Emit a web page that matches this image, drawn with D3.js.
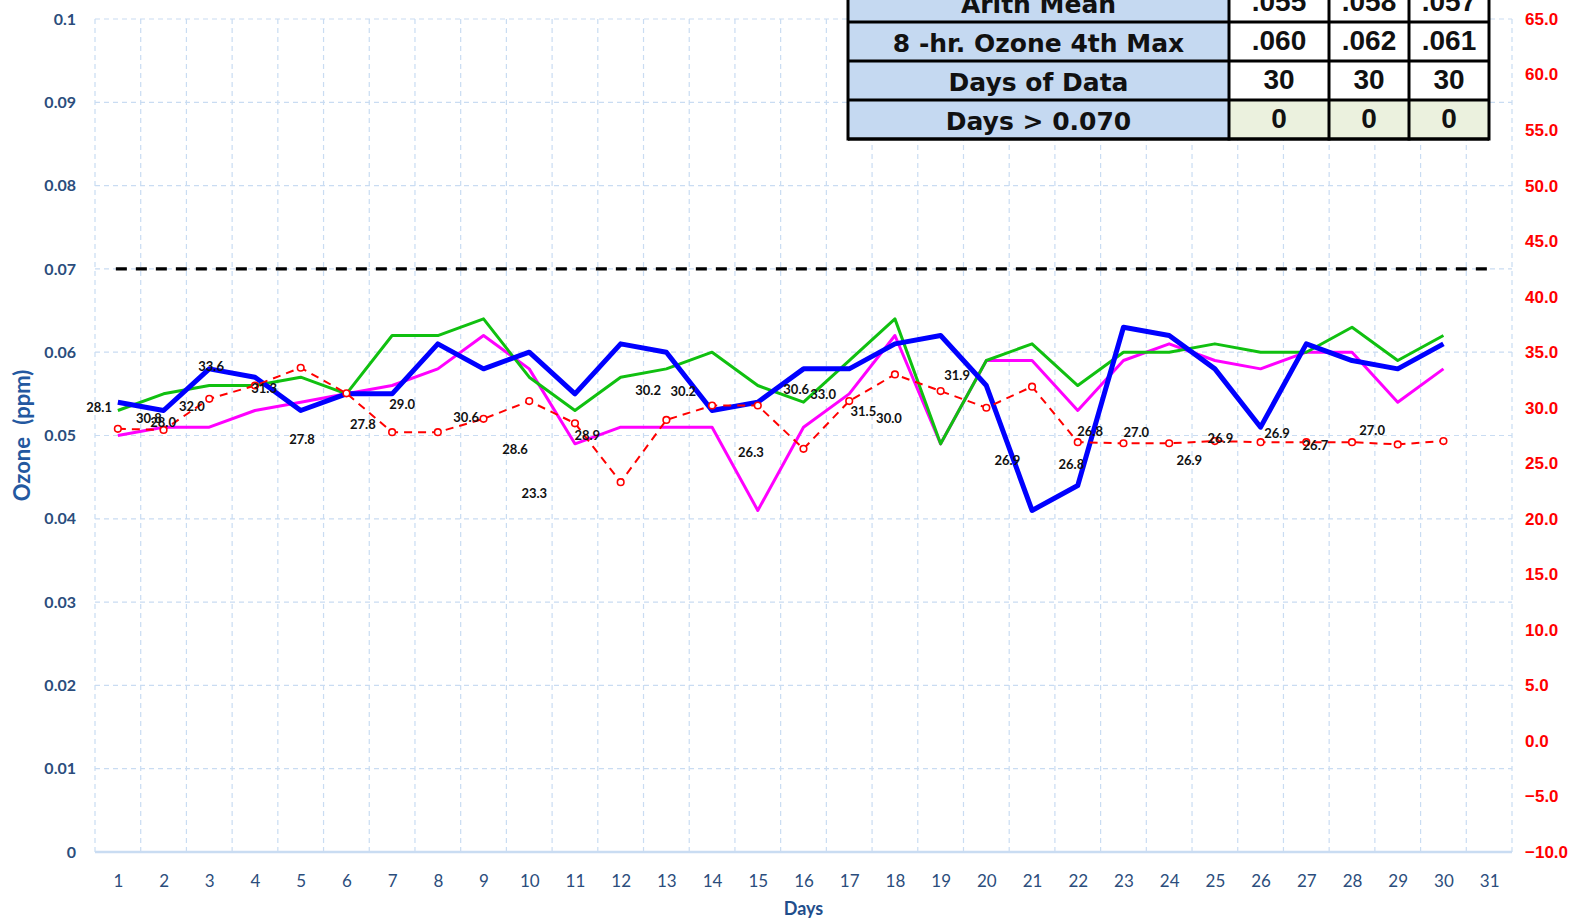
<!DOCTYPE html>
<html lang="en">
<head>
  <meta charset="utf-8">
  <title>Ozone by Day</title>
  <script src="https://cdnjs.cloudflare.com/ajax/libs/d3/7.8.5/d3.min.js"></script>
  <style>
    body { margin: 0; background: #fff; }
    text { font-family: Lato, 'Liberation Sans', sans-serif; }
  </style>
</head>
<body>
<svg id="canvas" width="1573" height="921"></svg>

<script>
// ---- data ----
var days = d3.range(1, 31);
var day_ticks = d3.range(1, 32);

var ozone_magenta = [.050, .051, .051, .053, .054, .055, .056, .058, .062, .058,
                     .049, .051, .051, .051, .041, .051, .055, .062, .049, .059,
                     .059, .053, .059, .061, .059, .058, .060, .060, .054, .058];
var ozone_green   = [.053, .055, .056, .056, .057, .055, .062, .062, .064, .057,
                     .053, .057, .058, .060, .056, .054, .059, .064, .049, .059,
                     .061, .056, .060, .060, .061, .060, .060, .063, .059, .062];
var ozone_blue    = [.054, .053, .058, .057, .053, .055, .055, .061, .058, .060,
                     .055, .061, .060, .053, .054, .058, .058, .061, .062, .056,
                     .041, .044, .063, .062, .058, .051, .061, .059, .058, .061];
var temp_red      = [28.1, 28.0, 30.8, 32.0, 33.6, 31.3, 27.8, 27.8, 29.0, 30.6,
                     28.6, 23.3, 28.9, 30.2, 30.2, 26.3, 30.6, 33.0, 31.5, 30.0,
                     31.9, 26.9, 26.8, 26.8, 27.0, 26.9, 26.9, 26.9, 26.7, 27.0];
var standard = 0.070;

var ozone_ticks = d3.range(0, 11).map(function(i){ return i / 100; });
var temp_ticks = d3.range(-10, 66, 5);

var table_rows = ['Arith Mean', '8 -hr. Ozone 4th Max', 'Days of Data', 'Days > 0.070'];
var table_values = [['.055', '.058', '.057'],
                    ['.060', '.062', '.061'],
                    ['30', '30', '30'],
                    ['0', '0', '0']];

// where the temperature labels sit (day, temperature units) - they were dragged around in the original
var label_day  = [0.59, 1.99, 1.68, 2.62, 3.04, 4.20, 5.03, 6.36, 7.22, 8.62,
                  9.69, 10.11, 11.27, 12.60, 13.37, 14.85, 15.84, 16.43, 17.31, 17.87,
                  19.36, 20.46, 21.86, 22.27, 23.28, 24.44, 25.12, 26.36, 27.20, 28.44];
var label_temp = [30.0, 28.65, 29.07, 30.15, 33.74, 31.77, 27.10, 28.53, 30.33, 29.16,
                  26.20, 22.25, 27.46, 31.59, 31.50, 25.93, 31.68, 31.23, 29.70, 29.07,
                  32.94, 25.21, 24.85, 27.82, 27.73, 25.21, 27.19, 27.64, 26.56, 27.91];

/*******************************************************************************/

var svg = d3.select('#canvas');
var left = 95, right = 1512, top_ = 19, bottom = 852;

var x = d3.scaleLinear().domain([0.5, 31.5]).range([left, right]);
var y = d3.scaleLinear().domain([0, 0.1]).range([bottom, top_]);
var yR = d3.scaleLinear().domain([-10, 65]).range([bottom, top_]);

drawGrid();
drawSeries();
drawLabels();
drawAxes();
drawTable();

function drawGrid(){
  var g = svg.append('g');
  g.selectAll('.hgrid').data(ozone_ticks.slice(1)).enter()
    .append('line').attr('x1', left).attr('x2', right)
    .attr('y1', function(d){ return y(d); }).attr('y2', function(d){ return y(d); })
    .style('stroke', '#c9dcf2').style('stroke-width', 1.2).style('stroke-dasharray', '5,4');
  g.selectAll('.vgrid').data(day_ticks.concat([32])).enter()
    .append('line').attr('y1', top_).attr('y2', bottom)
    .attr('x1', function(d){ return x(d - 0.5); }).attr('x2', function(d){ return x(d - 0.5); })
    .style('stroke', '#c9dcf2').style('stroke-width', 1.2).style('stroke-dasharray', '5,4');
  g.append('line').attr('x1', left).attr('x2', right).attr('y1', bottom).attr('y2', bottom)
    .style('stroke', '#c9dcf2').style('stroke-width', 2.5);
}

function drawSeries(){
  svg.append('line')
    .attr('x1', x(1) - 2).attr('x2', x(31) + 4).attr('y1', y(standard)).attr('y2', y(standard))
    .style('stroke', '#000').style('stroke-width', 3.2).style('stroke-dasharray', '11,9');

  var line = d3.line().x(function(d, i){ return x(days[i]); }).y(function(d){ return y(d); });
  var lineR = d3.line().x(function(d, i){ return x(days[i]); }).y(function(d){ return yR(d); });

  svg.append('path').attr('d', line(ozone_magenta))
    .style('fill', 'none').style('stroke', '#ff00ff').style('stroke-width', 3).style('stroke-linejoin', 'round');
  svg.append('path').attr('d', line(ozone_green))
    .style('fill', 'none').style('stroke', '#10c010').style('stroke-width', 3).style('stroke-linejoin', 'round');
  svg.append('path').attr('d', line(ozone_blue))
    .style('fill', 'none').style('stroke', '#0000ff').style('stroke-width', 5).style('stroke-linejoin', 'round');
  svg.append('path').attr('d', lineR(temp_red))
    .style('fill', 'none').style('stroke', '#ff0000').style('stroke-width', 2).style('stroke-dasharray', '8,6');

  svg.append('g').selectAll('circle').data(temp_red).enter()
    .append('circle').attr('r', 3.3)
    .attr('cx', function(d, i){ return x(days[i]); }).attr('cy', function(d){ return yR(d); })
    .style('fill', '#fff').style('stroke', '#ff0000').style('stroke-width', 1.6);
}

function drawLabels(){
  svg.append('g').selectAll('text').data(temp_red).enter()
    .append('text')
    .attr('x', function(d, i){ return x(label_day[i]); })
    .attr('y', function(d, i){ return yR(label_temp[i]); })
    .attr('text-anchor', 'middle').attr('dy', '0.35em')
    .style('font-size', '13px').style('font-weight', 'bold').style('fill', '#111')
    .text(function(d){ return d3.format('.1f')(d); });
}

function drawAxes(){
  var gl = svg.append('g').attr('transform', 'translate(' + left + ',0)')
    .call(d3.axisLeft(y).tickValues(ozone_ticks).tickSize(0).tickPadding(19)
      .tickFormat(function(d){ return d === 0 ? '0' : String(+d.toFixed(2)); }));
  gl.select('.domain').remove();
  gl.selectAll('text').style('font-family', 'Lato, sans-serif').style('font-size', '16px')
    .style('font-weight', 'bold').style('fill', '#2b4d7c');

  var gr = svg.append('g').attr('transform', 'translate(' + right + ',0)')
    .call(d3.axisRight(yR).tickValues(temp_ticks).tickSize(0).tickPadding(13).tickFormat(d3.format('.1f')));
  gr.select('.domain').remove();
  gr.selectAll('text').style('font-family', "'Liberation Sans', Arial, sans-serif").style('font-size', '17px')
    .style('font-weight', 'bold').style('fill', '#ff0000');

  var gb = svg.append('g').attr('transform', 'translate(0,' + bottom + ')')
    .call(d3.axisBottom(x).tickValues(day_ticks).tickSize(0).tickPadding(23).tickFormat(d3.format('d')));
  gb.select('.domain').remove();
  gb.selectAll('text').style('font-family', 'Lato, sans-serif').style('font-size', '17px').style('fill', '#2b4d7c');

  svg.append('text').attr('x', (left + right) / 2).attr('y', 915).attr('text-anchor', 'middle')
    .style('font-size', '18px').style('font-weight', 'bold').style('fill', '#1f4e8c').text('Days');

  svg.append('text').attr('transform', 'translate(30,' + y(0.0500) + ') rotate(-90)').attr('text-anchor', 'middle')
    .style('font-size', '22px').style('font-weight', 'bold').style('fill', '#2358a0').style('word-spacing', '7px')
    .text('Ozone (ppm)');
}

function drawTable(){
  var col_x = [848, 1229, 1329, 1409, 1489];
  var row_h = 39, row_top = -17;
  var g = svg.append('g');

  table_rows.forEach(function(label, r){
    var ty = row_top + r * row_h;
    g.append('rect').attr('x', col_x[0]).attr('y', ty).attr('width', col_x[1] - col_x[0]).attr('height', row_h)
      .style('fill', '#c5d9f1');
    g.append('text').attr('x', (col_x[0] + col_x[1]) / 2).attr('y', ty + 30).attr('text-anchor', 'middle')
      .style('font-family', "'DejaVu Sans', sans-serif").style('font-size', '25px').style('font-weight', 'bold')
      .style('fill', '#111').text(label);
    table_values[r].forEach(function(v, c){
      g.append('rect').attr('x', col_x[c + 1]).attr('y', ty).attr('width', col_x[c + 2] - col_x[c + 1]).attr('height', row_h)
        .style('fill', r == table_rows.length - 1 ? '#ebf1de' : '#fff');
      g.append('text').attr('x', (col_x[c + 1] + col_x[c + 2]) / 2).attr('y', ty + 28).attr('text-anchor', 'middle')
        .style('font-family', "'Liberation Sans', Arial, sans-serif").style('font-size', '28px').style('font-weight', 'bold')
        .style('fill', '#111').text(v);
    });
  });

  var bottom_y = row_top + table_rows.length * row_h;
  d3.range(table_rows.length + 1).forEach(function(r){
    g.append('line').attr('x1', col_x[0]).attr('x2', col_x[4])
      .attr('y1', row_top + r * row_h).attr('y2', row_top + r * row_h)
      .style('stroke', '#000').style('stroke-width', r == table_rows.length ? 3.5 : 3);
  });
  col_x.forEach(function(cx){
    g.append('line').attr('x1', cx).attr('x2', cx).attr('y1', row_top).attr('y2', bottom_y + 1.5)
      .style('stroke', '#000').style('stroke-width', 3);
  });
}
</script>
</body>
</html>
